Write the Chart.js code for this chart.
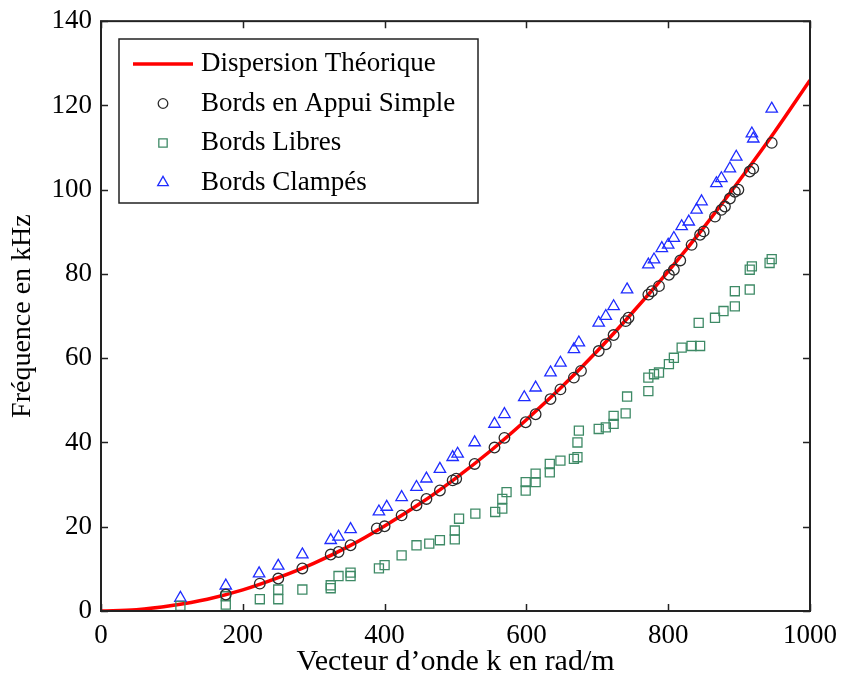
<!DOCTYPE html>
<html>
<head>
<meta charset="utf-8">
<script src="https://cdn.jsdelivr.net/npm/chart.js@4/dist/chart.umd.min.js"></script>
<style>
  html, body { margin: 0; padding: 0; background: #fff; }
  canvas { display: block; }
</style>
</head>
<body>
<canvas id="dispCanvas" width="846" height="677"></canvas>
<script>
// courbe théorique (k en rad/m, f en kHz)
const theoryK = [0, 50, 100, 150, 200, 250, 300, 350, 400, 450, 500, 550, 600, 650, 700, 750, 800, 850, 900, 950, 1000];
const theoryF = [0, 0.3, 1.3, 2.8, 5.0, 7.9, 11.3, 15.4, 20.2, 25.5, 31.5, 38.1, 45.4, 53.2, 61.7, 70.9, 80.6, 91.0, 102.1, 113.7, 126.0];

// mesures : [k, f]
const appuiSimple = [
  [176, 3.9], [224, 6.5], [250, 7.7], [284, 10.1], [324, 13.4], [335, 14.0], [352, 15.6],
  [389, 19.6], [400, 20.1], [424, 22.7], [445, 25.1], [459, 26.6], [478, 28.6], [496, 31.0],
  [501, 31.4], [527, 34.9], [555, 38.8], [569, 41.1], [599, 44.8], [613, 46.7], [634, 50.3],
  [648, 52.6], [667, 55.4], [677, 57.0], [702, 61.7], [712, 63.3], [723, 65.5], [740, 68.8],
  [744, 69.6], [772, 75.1], [777, 75.9], [787, 77.1], [801, 79.8], [808, 81.0], [817, 83.2],
  [833, 86.9], [845, 89.3], [850, 90.1], [866, 93.6], [875, 95.2], [880, 96.0], [887, 97.9],
  [894, 99.5], [899, 100.0], [915, 104.3], [920, 105.0], [946, 111.1]
];
const bordsLibres = [
  [112, 1.2], [176, 1.5], [176, 3.5], [224, 2.8], [250, 2.8], [250, 5.1], [284, 5.1],
  [324, 5.4], [324, 6.1], [335, 8.3], [352, 8.3], [352, 9.1], [392, 10.1], [400, 10.9],
  [424, 13.2], [445, 15.6], [463, 16.0], [478, 16.8], [499, 17.0], [499, 19.1], [505, 21.9],
  [528, 23.1], [556, 23.5], [566, 24.3], [566, 26.6], [572, 28.2], [599, 28.6], [599, 30.6],
  [613, 30.6], [613, 32.6], [633, 32.9], [633, 34.9], [648, 35.7], [667, 36.1], [672, 36.5],
  [672, 40.0], [674, 42.8], [702, 43.2], [712, 43.6], [723, 44.4], [723, 46.3], [740, 46.9],
  [742, 50.9], [772, 52.2], [772, 55.4], [780, 56.2], [787, 56.6], [801, 58.6], [808, 60.1],
  [819, 62.5], [833, 62.9], [845, 62.9], [843, 68.4], [866, 69.6], [878, 71.2], [894, 72.3],
  [894, 75.9], [915, 76.3], [915, 81.0], [918, 81.8], [943, 82.6], [946, 83.5]
];
const bordsClampes = [
  [112, 3.1], [176, 6.0], [223, 8.9], [250, 10.7], [284, 13.4], [324, 16.8], [335, 17.6],
  [352, 19.4], [392, 23.6], [403, 24.7], [424, 27.0], [445, 29.4], [459, 31.4], [478, 33.7],
  [496, 36.5], [503, 37.3], [527, 40.0], [555, 44.4], [569, 46.7], [597, 50.7], [613, 53.0],
  [634, 56.6], [648, 58.9], [667, 62.1], [674, 63.7], [702, 68.4], [712, 70.0], [723, 72.3],
  [742, 76.3], [772, 82.2], [780, 83.4], [791, 86.1], [800, 86.9], [808, 88.5], [819, 91.3],
  [829, 92.4], [840, 95.2], [847, 97.2], [868, 101.5], [875, 102.7], [887, 105.0], [896, 107.8],
  [918, 113.3], [920, 112.1], [946, 119.2]
];

const xTicks = [0, 200, 400, 600, 800, 1000];
const yTicks = [0, 20, 40, 60, 80, 100, 120, 140];

const SERIF = '"Liberation Serif", "Times New Roman", "DejaVu Serif", serif';
const toPts = (arr) => arr.map(([k, f]) => ({ x: k, y: f }));

/**
 * cadre fermé + graduations vers l'intérieur sur les 4 côtés
 */
const frameTicks = {
  id: "frameTicks",
  afterDatasetsDraw(chart) {
    const { ctx, chartArea: a, scales } = chart;
    const len = 7;
    ctx.save();
    ctx.strokeStyle = "#222";
    ctx.lineWidth = 1.5;
    ctx.beginPath();
    xTicks.forEach((v) => {
      const px = Math.round(scales.x.getPixelForValue(v)) + 0.5;
      ctx.moveTo(px, a.bottom); ctx.lineTo(px, a.bottom - len);
      ctx.moveTo(px, a.top); ctx.lineTo(px, a.top + len);
    });
    yTicks.forEach((v) => {
      const py = Math.round(scales.y.getPixelForValue(v)) + 0.5;
      ctx.moveTo(a.left, py); ctx.lineTo(a.left + len, py);
      ctx.moveTo(a.right, py); ctx.lineTo(a.right - len, py);
    });
    ctx.stroke();
    ctx.lineWidth = 2;
    ctx.strokeRect(a.left, a.top, a.right - a.left, a.bottom - a.top);
    ctx.restore();
  },
  afterDraw(chart) {
    // légende dans la zone de tracé, en haut à gauche
    const { ctx } = chart;
    const box = { x: 119, y: 39, w: 359, h: 164 };
    ctx.save();
    ctx.fillStyle = "#fff";
    ctx.fillRect(box.x, box.y, box.w, box.h);
    ctx.strokeStyle = "#222";
    ctx.lineWidth = 1.5;
    ctx.strokeRect(box.x, box.y, box.w, box.h);
    ctx.font = "27px " + SERIF;
    ctx.textBaseline = "middle";
    chart.data.datasets.forEach((ds, i) => {
      const y = 64 + i * 39.5;
      if (ds.showLine) {
        ctx.strokeStyle = ds.borderColor;
        ctx.lineWidth = ds.borderWidth;
        ctx.beginPath();
        ctx.moveTo(133, y); ctx.lineTo(193, y);
        ctx.stroke();
      } else {
        ctx.fillStyle = "rgba(0,0,0,0)";
        ctx.strokeStyle = ds.pointBorderColor;
        ctx.lineWidth = ds.pointBorderWidth;
        Chart.helpers.drawPoint(ctx, {
          pointStyle: ds.pointStyle,
          radius: ds.pointRadius - 0.5,
          borderWidth: ds.pointBorderWidth,
          rotation: 0
        }, 163, y);
      }
      ctx.fillStyle = "#000";
      ctx.fillText(ds.label, 201, y);
    });
    ctx.restore();
  }
};

const markerSet = (label, data, style, color, radius) => ({
  label,
  data: toPts(data),
  showLine: false,
  pointStyle: style,
  pointRadius: radius,
  pointBorderWidth: 1.3,
  pointBorderColor: color,
  pointBackgroundColor: "rgba(0,0,0,0)",
  borderColor: color,
  order: 1
});

new Chart(document.getElementById("dispCanvas"), {
  type: "scatter",
  data: {
    datasets: [
      {
        label: "Dispersion Théorique",
        data: theoryK.map((k, i) => ({ x: k, y: theoryF[i] })),
        showLine: true,
        pointRadius: 0,
        borderColor: "#ff0000",
        borderWidth: 3.5,
        cubicInterpolationMode: "monotone",
        order: 5
      },
      markerSet("Bords en Appui Simple", appuiSimple, "circle", "#2b2b2b", 5.3),
      markerSet("Bords Libres", bordsLibres, "rect", "#3e8a66", 6.4),
      markerSet("Bords Clampés", bordsClampes, "triangle", "#1f2cff", 6.6)
    ]
  },
  options: {
    responsive: false,
    animation: false,
    devicePixelRatio: 1,
    layout: { padding: { top: 21, right: 32, bottom: 0, left: 0 } },
    plugins: {
      legend: { display: false },
      tooltip: { enabled: false }
    },
    scales: {
      x: {
        type: "linear",
        min: 0,
        max: 1000,
        afterFit(s) { s.height = 66; },
        afterBuildTicks(s) { s.ticks = xTicks.map((v) => ({ value: v })); },
        ticks: {
          font: { family: SERIF, size: 27 },
          color: "#000",
          padding: 9,
          maxRotation: 0,
          callback: (v) => String(v)
        },
        grid: { drawOnChartArea: false, drawTicks: false, display: false },
        border: { display: false },
        title: {
          display: true,
          text: "Vecteur d’onde k en rad/m",
          font: { family: SERIF, size: 30, lineHeight: 1 },
          color: "#000",
          padding: { top: 0, bottom: 0 }
        }
      },
      y: {
        type: "linear",
        min: 0,
        max: 140,
        afterFit(s) { s.width = 101; },
        afterBuildTicks(s) { s.ticks = yTicks.map((v) => ({ value: v })); },
        ticks: {
          font: { family: SERIF, size: 27, lineHeight: 0.9 },
          color: "#000",
          padding: 9,
          callback: (v) => String(v)
        },
        grid: { drawOnChartArea: false, drawTicks: false, display: false },
        border: { display: false },
        title: {
          display: true,
          text: "Fréquence en kHz",
          font: { family: SERIF, size: 28, lineHeight: 1 },
          color: "#000",
          padding: { top: 9, bottom: 0 }
        }
      }
    }
  },
  plugins: [frameTicks]
});
</script>
</body>
</html>
